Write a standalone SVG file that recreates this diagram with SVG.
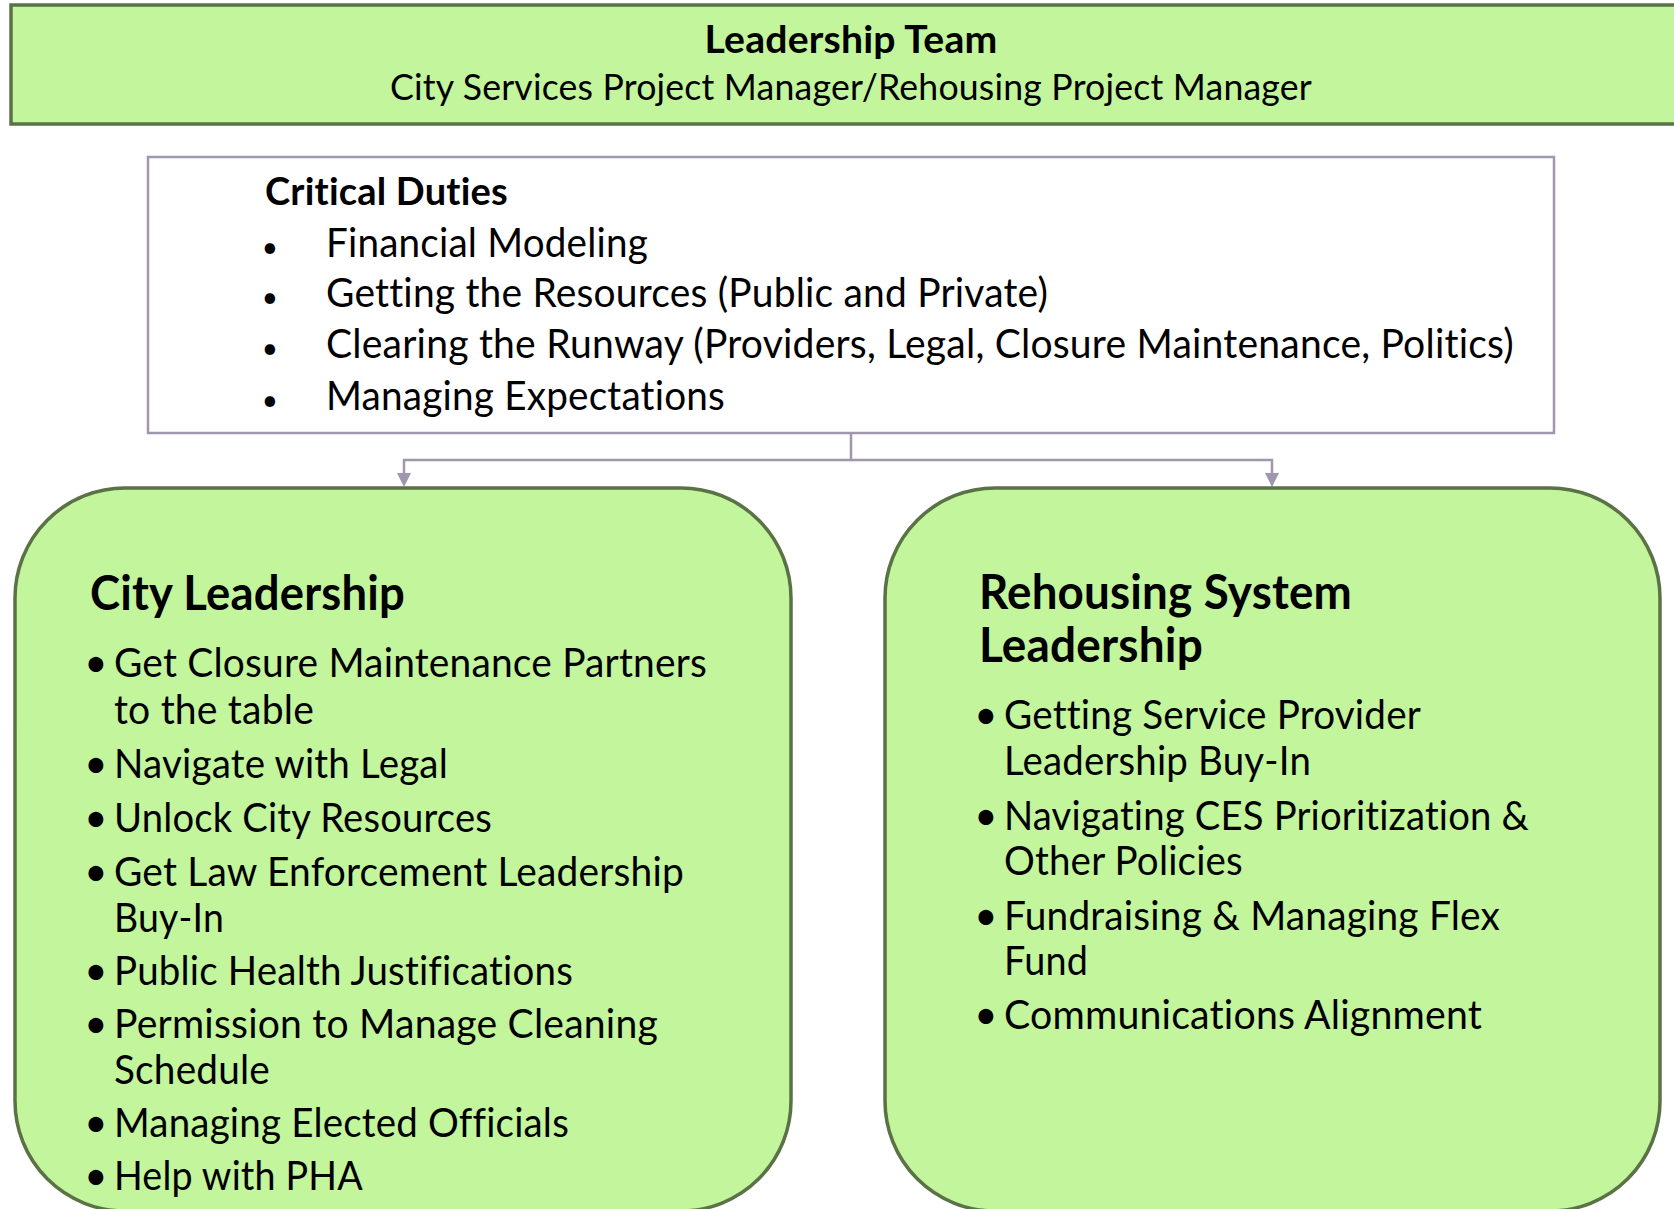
<svg xmlns="http://www.w3.org/2000/svg" width="1674" height="1209" viewBox="0 0 1674 1209">
  <defs>
    <style>
      .t { font-family: Lato, "Liberation Sans", sans-serif; fill: #000; font-variant-ligatures: none; font-feature-settings: "liga" 0, "clig" 0, "dlig" 0, "calt" 0; letter-spacing: 0.2px; }
      .b { font-weight: 700; }
      .hdr { font-size: 38px; }
      .sub { font-size: 36px; }
      .item { font-size: 40px; }
      .title { font-size: 47px; }
      .dot { font-size: 28px; }
      .green { fill: #c2f59c; stroke: #5a7245; stroke-width: 3.5; }
      .duty { fill: #ffffff; stroke: #a096ad; stroke-width: 2.5; }
      .conn { fill: none; stroke: #a096ad; stroke-width: 2.5; }
    </style>
    <marker id="arrow" markerUnits="userSpaceOnUse" markerWidth="14" markerHeight="14" refX="0" refY="7" orient="auto">
      <path d="M0,0 L14,7 L0,14 z" fill="#a096ad"/>
    </marker>
  </defs>

  <rect width="1674" height="1209" fill="#ffffff"/>

  <!-- top banner -->
  <g id="leadership-team">
    <rect class="green" x="11" y="5" width="1690" height="119"/>
    <text class="t b hdr" x="851" y="53" text-anchor="middle" textLength="293" lengthAdjust="spacingAndGlyphs">Leadership Team</text>
    <text class="t sub" x="851" y="100" text-anchor="middle" textLength="922" lengthAdjust="spacingAndGlyphs">City Services Project Manager/Rehousing Project Manager</text>
  </g>

  <!-- duties box -->
  <g id="critical-duties">
    <rect class="duty" x="148" y="157" width="1406" height="276"/>
    <text class="t b hdr" x="265" y="205" textLength="243" lengthAdjust="spacingAndGlyphs">Critical Duties</text>
    <text class="t dot" x="270" y="257" text-anchor="middle">•</text>
    <text class="t item" x="326" y="257" textLength="322" lengthAdjust="spacingAndGlyphs">Financial Modeling</text>
    <text class="t dot" x="270" y="307" text-anchor="middle">•</text>
    <text class="t item" x="326" y="307" textLength="722" lengthAdjust="spacingAndGlyphs">Getting the Resources (Public and Private)</text>
    <text class="t dot" x="270" y="358" text-anchor="middle">•</text>
    <text class="t item" x="326" y="358" textLength="1188" lengthAdjust="spacingAndGlyphs">Clearing the Runway (Providers, Legal, Closure Maintenance, Politics)</text>
    <text class="t dot" x="270" y="410" text-anchor="middle">•</text>
    <text class="t item" x="326" y="410" textLength="399" lengthAdjust="spacingAndGlyphs">Managing Expectations</text>
  </g>

  <!-- connectors -->
  <g id="connectors">
    <path class="conn" d="M851,433 V460 H404 V473" marker-end="url(#arrow)"/>
    <path class="conn" d="M851,460 H1272 V473" marker-end="url(#arrow)"/>
  </g>

  <!-- city leadership -->
  <g id="city-leadership">
    <rect class="green" x="15" y="488" width="776" height="723" rx="110" ry="110"/>
    <text class="t b title" x="90" y="610" textLength="315" lengthAdjust="spacingAndGlyphs">City Leadership</text>
    <g class="t item">
      <text x="96" y="677" text-anchor="middle">•</text>
      <text x="114" y="677" textLength="593" lengthAdjust="spacingAndGlyphs">Get Closure Maintenance Partners</text>
      <text x="114" y="724" textLength="200" lengthAdjust="spacingAndGlyphs">to the table</text>
      <text x="96" y="778" text-anchor="middle">•</text>
      <text x="114" y="778" textLength="334" lengthAdjust="spacingAndGlyphs">Navigate with Legal</text>
      <text x="96" y="832" text-anchor="middle">•</text>
      <text x="114" y="832" textLength="378" lengthAdjust="spacingAndGlyphs">Unlock City Resources</text>
      <text x="96" y="886" text-anchor="middle">•</text>
      <text x="114" y="886" textLength="570" lengthAdjust="spacingAndGlyphs">Get Law Enforcement Leadership</text>
      <text x="114" y="932" textLength="110" lengthAdjust="spacingAndGlyphs">Buy-In</text>
      <text x="96" y="985" text-anchor="middle">•</text>
      <text x="114" y="985" textLength="459" lengthAdjust="spacingAndGlyphs">Public Health Justifications</text>
      <text x="96" y="1038" text-anchor="middle">•</text>
      <text x="114" y="1038" textLength="544" lengthAdjust="spacingAndGlyphs">Permission to Manage Cleaning</text>
      <text x="114" y="1084" textLength="156" lengthAdjust="spacingAndGlyphs">Schedule</text>
      <text x="96" y="1137" text-anchor="middle">•</text>
      <text x="114" y="1137" textLength="455" lengthAdjust="spacingAndGlyphs">Managing Elected Officials</text>
      <text x="96" y="1190" text-anchor="middle">•</text>
      <text x="114" y="1190" textLength="249" lengthAdjust="spacingAndGlyphs">Help with PHA</text>
    </g>
  </g>

  <!-- rehousing system leadership -->
  <g id="rehousing-leadership">
    <rect class="green" x="885" y="488" width="775" height="723" rx="110" ry="110"/>
    <text class="t b title" x="979" y="609" textLength="373" lengthAdjust="spacingAndGlyphs">Rehousing System</text>
    <text class="t b title" x="979" y="662" textLength="224" lengthAdjust="spacingAndGlyphs">Leadership</text>
    <g class="t item">
      <text x="986" y="729" text-anchor="middle">•</text>
      <text x="1004" y="729" textLength="417" lengthAdjust="spacingAndGlyphs">Getting Service Provider</text>
      <text x="1004" y="775" textLength="307" lengthAdjust="spacingAndGlyphs">Leadership Buy-In</text>
      <text x="986" y="830" text-anchor="middle">•</text>
      <text x="1004" y="830" textLength="525" lengthAdjust="spacingAndGlyphs">Navigating CES Prioritization &amp;</text>
      <text x="1004" y="875" textLength="239" lengthAdjust="spacingAndGlyphs">Other Policies</text>
      <text x="986" y="930" text-anchor="middle">•</text>
      <text x="1004" y="930" textLength="496" lengthAdjust="spacingAndGlyphs">Fundraising &amp; Managing Flex</text>
      <text x="1004" y="975" textLength="84" lengthAdjust="spacingAndGlyphs">Fund</text>
      <text x="986" y="1029" text-anchor="middle">•</text>
      <text x="1004" y="1029" textLength="478" lengthAdjust="spacingAndGlyphs">Communications Alignment</text>
    </g>
  </g>
</svg>
